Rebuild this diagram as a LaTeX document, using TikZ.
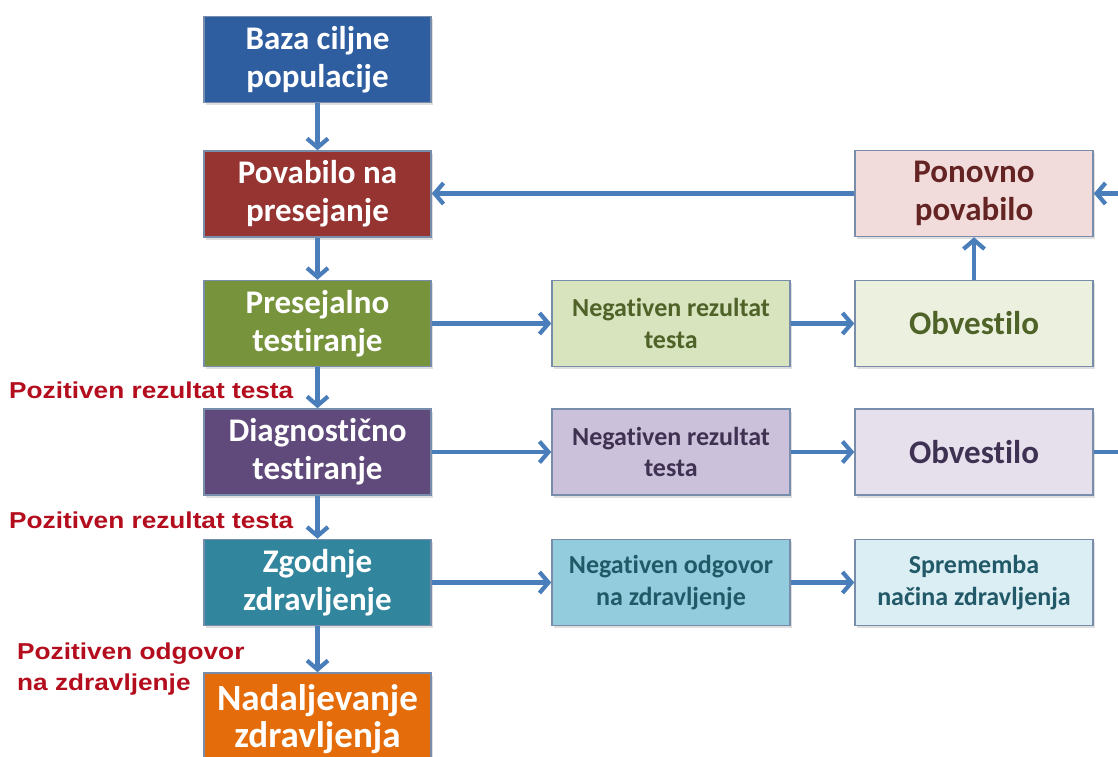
\documentclass[tikz,border=0pt]{standalone}
\usepackage{fontspec}
\setmainfont{Carlito}[Ligatures=NoCommon]
\newfontfamily\redfont[FakeStretch=1.14]{Liberation Sans}
\usetikzlibrary{arrows.meta,shadows}
\definecolor{bordc}{RGB}{120,140,172}
\definecolor{arrc}{RGB}{74,126,187}
\definecolor{labc}{RGB}{180,14,30}
\definecolor{cbaza}{RGB}{46,93,160}
\definecolor{cpov}{RGB}{150,52,50}
\definecolor{cpres}{RGB}{119,147,60}
\definecolor{cdiag}{RGB}{96,74,123}
\definecolor{czg}{RGB}{49,133,156}
\definecolor{cnad}{RGB}{228,108,10}
\definecolor{cnegA}{HTML}{D7E4BD}
\definecolor{cobvA}{HTML}{EBF1DE}
\definecolor{cpon}{HTML}{F2DCDB}
\definecolor{cnegB}{HTML}{CCC1DA}
\definecolor{cobvB}{HTML}{E6E0EC}
\definecolor{cnegC}{HTML}{93CDDD}
\definecolor{cspr}{HTML}{DBEEF4}
\definecolor{tgreen}{HTML}{4F6228}
\definecolor{tred}{HTML}{632423}
\definecolor{tpurp}{HTML}{3F3151}
\definecolor{tteal}{HTML}{215968}
\begin{document}
\begin{tikzpicture}[x=1pt,y=-1pt,
  box/.style={draw=bordc, line width=1.5pt, minimum height=86pt, inner sep=0pt,
    align=center, font=\bfseries\fontsize{33}{38}\selectfont,
    drop shadow={shadow xshift=1.5pt,shadow yshift=-2.5pt,opacity=0.25}},
  lbox/.style={box, minimum width=227pt, text=white},
  rbox/.style={box, minimum width=238pt},
  smalltext/.style={font=\bfseries\fontsize{26}{31.5}\selectfont},
  arr/.style={draw=arrc, line width=4.2pt, -{Straight Barb[length=9pt,width=21pt]}},
  lab/.style={text=labc, font=\redfont\bfseries\fontsize{23}{31}\selectfont,
    inner sep=0pt, align=left, anchor=base west}
]
\useasboundingbox (0,0) rectangle (1118,756);
\fill[white] (0,0) rectangle (1118,756);
\begin{scope}
\clip (0,0) rectangle (1118,756);
% left column
\node[lbox, fill=cbaza] (baza) at (317.5,59.5) {Baza ciljne\\populacije};
\node[lbox, fill=cpov] (pov) at (317.5,194) {Povabilo na\\presejanje};
\node[lbox, fill=cpres] (pres) at (317.5,323.5) {Presejalno\\testiranje};
\node[lbox, fill=cdiag] (diag) at (317.5,452) {Diagnostično\\testiranje};
\node[lbox, fill=czg] (zg) at (317.5,582.5) {Zgodnje\\zdravljenje};
\node[lbox, fill=cnad, minimum height=92pt, font=\bfseries\fontsize{37}{37}\selectfont] (nad) at (317.5,719) {Nadaljevanje\\zdravljenja};
% middle column
\node[rbox, smalltext, fill=cnegA, text=tgreen] (negA) at (671,323.5) {Negativen rezultat\\testa};
\node[rbox, smalltext, fill=cnegB, text=tpurp] (negB) at (671,452) {Negativen rezultat\\testa};
\node[rbox, smalltext, fill=cnegC, text=tteal] (negC) at (671,582.5) {Negativen odgovor\\na zdravljenje};
% right column
\node[rbox, fill=cpon, text=tred] (pon) at (974,193.5) {Ponovno\\povabilo};
\node[rbox, fill=cobvA, text=tgreen] (obvA) at (974,323.5) {Obvestilo};
\node[rbox, fill=cobvB, text=tpurp] (obvB) at (974,452) {Obvestilo};
\node[rbox, smalltext, fill=cspr, text=tteal] (spr) at (974,582.5) {Sprememba\\načina zdravljenja};
% vertical arrows
\draw[arr] (baza) -- (pov);
\draw[arr] (pov) -- (pres);
\draw[arr] (pres) -- (diag);
\draw[arr] (diag) -- (zg);
\draw[arr] (zg) -- (nad);
% horizontal arrows
\draw[arr] (pres) -- (negA);
\draw[arr] (negA) -- (obvA);
\draw[arr] (diag) -- (negB);
\draw[arr] (negB) -- (obvB);
\draw[arr] (zg) -- (negC);
\draw[arr] (negC) -- (spr);
\draw[arr] (obvA) -- (pon);
\draw[arr] (pon.west) -- (pov.east |- pon.west);
\draw[arr] (obvB.east) -- ++(45,0) |- (pon.east);
% labels
\node[lab] (l1) at (9,398) {Pozitiven rezultat testa};
\node[lab] (l2) at (9,528) {Pozitiven rezultat testa};
\node[lab] (l3) at (17,690) {Pozitiven odgovor\\na zdravljenje};
\end{scope}
\end{tikzpicture}
\end{document}
